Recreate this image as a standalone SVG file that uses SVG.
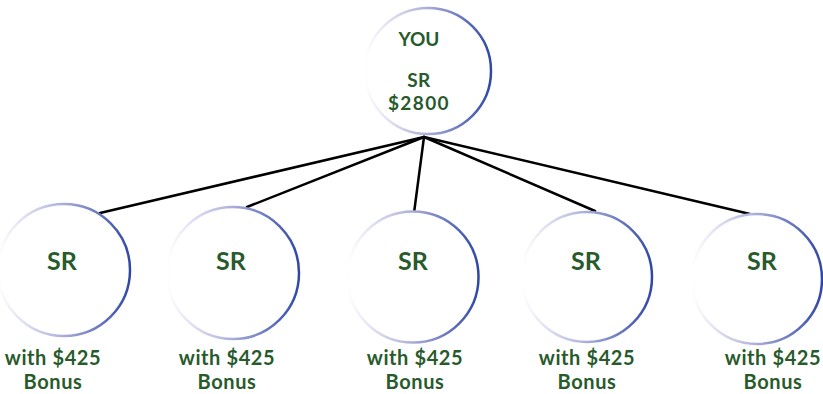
<svg xmlns="http://www.w3.org/2000/svg" width="823" height="394" viewBox="0 0 823 394">
  <defs>
    <linearGradient id="ring" x1="0" y1="0" x2="1" y2="0">
      <stop offset="0" stop-color="#ffffff"/>
      <stop offset="0.45" stop-color="#b4b6de"/>
      <stop offset="1" stop-color="#2f48a6"/>
    </linearGradient>
  </defs>
  <style>
    .ring { fill: #ffffff; stroke: url(#ring); stroke-width: 2.5; }
    .t { font-family: Lato, "Open Sans", sans-serif; font-weight: bold; fill: #285a2c; text-anchor: middle; }
    .sr { font-size: 25px; }
    .lbl { font-size: 20px; letter-spacing: 0.6px; }
    .conn { stroke: #000000; stroke-width: 2.5; fill: none; stroke-linecap: round; }
  </style>
  <rect width="823" height="394" fill="#ffffff"/>
  <g id="connectors">
    <line class="conn" x1="424" y1="137" x2="100" y2="213"/>
    <line class="conn" x1="424" y1="137" x2="247" y2="207"/>
    <line class="conn" x1="424" y1="137" x2="414" y2="213"/>
    <line class="conn" x1="424" y1="137" x2="595" y2="211"/>
    <line class="conn" x1="424" y1="137" x2="750" y2="214"/>
  </g>
  <g id="you">
    <circle class="ring" cx="428" cy="71" r="63"/>
    <text class="t" x="419" y="46" font-size="19">YOU</text>
    <text class="t" x="419" y="87" font-size="19" letter-spacing="0.5">SR</text>
    <text class="t" x="419" y="110" font-size="19" letter-spacing="1.4">$2800</text>
  </g>
  <g id="sr1">
    <circle class="ring" cx="64" cy="270" r="66"/>
    <text class="t sr" x="62" y="270">SR</text>
    <text class="t lbl" x="53" y="365">with $425</text>
    <text class="t lbl" x="53" y="389">Bonus</text>
  </g>
  <g id="sr2">
    <circle class="ring" cx="233" cy="273" r="66"/>
    <text class="t sr" x="231" y="270">SR</text>
    <text class="t lbl" x="227" y="365">with $425</text>
    <text class="t lbl" x="227" y="389">Bonus</text>
  </g>
  <g id="sr3">
    <circle class="ring" cx="413" cy="277" r="65.5"/>
    <text class="t sr" x="413" y="270">SR</text>
    <text class="t lbl" x="415" y="365">with $425</text>
    <text class="t lbl" x="415" y="389">Bonus</text>
  </g>
  <g id="sr4">
    <circle class="ring" cx="587" cy="277" r="65"/>
    <text class="t sr" x="586" y="270">SR</text>
    <text class="t lbl" x="587" y="365">with $425</text>
    <text class="t lbl" x="587" y="389">Bonus</text>
  </g>
  <g id="sr5">
    <circle class="ring" cx="757" cy="279" r="65"/>
    <text class="t sr" x="762" y="270">SR</text>
    <text class="t lbl" x="773" y="365">with $425</text>
    <text class="t lbl" x="773" y="389">Bonus</text>
  </g>
</svg>
